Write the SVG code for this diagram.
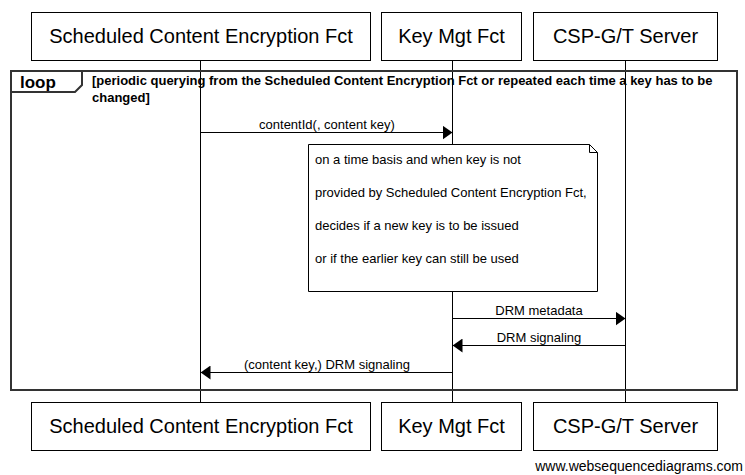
<svg xmlns="http://www.w3.org/2000/svg" width="745" height="475" viewBox="0 0 745 475">
<style>
.box{fill:#fff;stroke:#000;stroke-width:1}
.pt{font-family:"Liberation Sans",Arial,sans-serif;font-size:20px;fill:#000;text-anchor:middle}
.life{stroke:#000;stroke-width:1}
.msg{stroke:#000;stroke-width:1;fill:none}
.ml{font-family:"Liberation Sans",Arial,sans-serif;font-size:13px;fill:#000;text-anchor:middle}
.nt{font-family:"Liberation Sans",Arial,sans-serif;font-size:13px;fill:#000}
.lb{font-family:"Liberation Sans",Arial,sans-serif;font-size:13px;font-weight:bold;fill:#000}
</style>
<defs>
<marker id="ah" markerWidth="10" markerHeight="14" refX="10" refY="7" orient="auto" markerUnits="userSpaceOnUse">
<path d="M0,0 L10,7 L0,14 Z" fill="#000"/>
</marker>
</defs>
<rect width="745" height="475" fill="#fff"/>
<g id="lifelines">
<line class="life" x1="200.5" y1="60" x2="200.5" y2="402"/>
<line class="life" x1="452.5" y1="60" x2="452.5" y2="402"/>
<line class="life" x1="625.5" y1="60" x2="625.5" y2="402"/>
</g>
<g id="loop">
<rect x="11" y="71" width="726" height="319" fill="none" stroke="#333" stroke-width="2"/>
<path d="M11,92 H75 L82,85 V71" fill="none" stroke="#333" stroke-width="2"/>
<text x="20" y="88" font-family="'Liberation Sans',Arial,sans-serif" font-size="17" font-weight="bold">loop</text>
<text class="lb" x="92" y="85">[periodic querying from the Scheduled Content Encryption Fct or repeated each time a key has to be</text>
<text class="lb" x="92" y="102">changed]</text>
</g>
<g id="p1_top"><rect class="box" x="31.5" y="12.5" width="339" height="48"/><text class="pt" x="201" y="43">Scheduled Content Encryption Fct</text></g>
<g id="p2_top"><rect class="box" x="381.5" y="12.5" width="140" height="48"/><text class="pt" x="451.5" y="43">Key Mgt Fct</text></g>
<g id="p3_top"><rect class="box" x="533.5" y="12.5" width="184" height="48"/><text class="pt" x="625.5" y="43">CSP-G/T Server</text></g>
<g id="connectors">
<line class="msg" x1="200.5" y1="132.5" x2="452.5" y2="132.5" marker-end="url(#ah)"/>
<text class="ml" x="327" y="129">contentId(, content key)</text>
<line class="msg" x1="452.5" y1="318.5" x2="625.5" y2="318.5" marker-end="url(#ah)"/>
<text class="ml" x="539" y="315">DRM metadata</text>
<line class="msg" x1="625.5" y1="345.5" x2="452.5" y2="345.5" marker-end="url(#ah)"/>
<text class="ml" x="539" y="342">DRM signaling</text>
<line class="msg" x1="452.5" y1="372.5" x2="200.5" y2="372.5" marker-end="url(#ah)"/>
<text class="ml" x="327" y="369">(content key,) DRM signaling</text>
</g>
<g id="note">
<path d="M308.5,144.5 H589.5 L597.5,152.5 V291.5 H308.5 Z" fill="#fff" stroke="#000"/>
<path d="M589.5,144.5 V152.5 H597.5" fill="none" stroke="#000"/>
<text class="nt" x="315" y="164">on a time basis and when key is not</text>
<text class="nt" x="315" y="197">provided by Scheduled Content Encryption Fct,</text>
<text class="nt" x="315" y="230">decides if a new key is to be issued</text>
<text class="nt" x="315" y="263">or if the earlier key can still be used</text>
</g>
<g id="p1_bot"><rect class="box" x="31.5" y="402.5" width="339" height="48"/><text class="pt" x="201" y="433">Scheduled Content Encryption Fct</text></g>
<g id="p2_bot"><rect class="box" x="381.5" y="402.5" width="140" height="48"/><text class="pt" x="451.5" y="433">Key Mgt Fct</text></g>
<g id="p3_bot"><rect class="box" x="533.5" y="402.5" width="184" height="48"/><text class="pt" x="625.5" y="433">CSP-G/T Server</text></g>
<text x="743" y="471" font-family="'Liberation Sans',Arial,sans-serif" font-size="14" text-anchor="end">www.websequencediagrams.com</text>
</svg>
